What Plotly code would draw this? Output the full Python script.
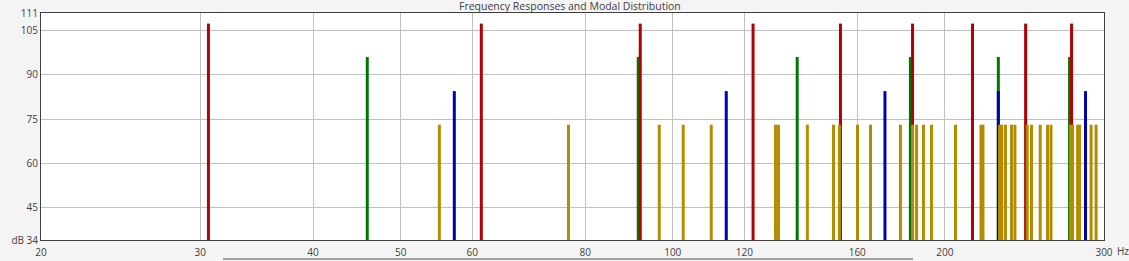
import plotly.graph_objects as go
import math

# ---- data ----
red_freqs = [30.64, 61.40, 92.05, 122.7, 153.3, 184.2, 214.6, 245.7, 276.2]
red_level = 107.4
green_freqs = [45.92, 91.58, 137.3, 183.2, 229.2, 274.8]
green_level = 96.1
blue_freqs = [57.32, 114.6, 171.7, 229.2, 286.2]
blue_level = 84.5
gold_freqs = [55.18, 76.67, 96.62, 102.7, 110.3, 129.9, 130.9, 140.9, 150.6, 152.9,
              160.1, 165.5, 178.6, 184.2, 186.1, 189.4, 193.3, 205.5, 219.3, 220.4,
              229.9, 231.2, 233.4, 237.0, 239.1, 246.7, 249.4, 255.0, 259.8, 262.1,
              275.5, 276.9, 280.5, 281.9, 290.3, 294.0]
gold_level = 73.1

x_tickvals = [20, 30, 40, 50, 60, 80, 100, 120, 160, 200, 300]
x_ticktext = ["20", "30", "40", "50", "60", "80", "100", "120", "160", "200", "300"]
y_tickvals = [34, 45, 60, 75, 90, 105, 111]
y_ticktext = ["dB 34", "45", "60", "75", "90", "105", "111"]
y_min, y_max = 34, 111
x_min, x_max = 20, 300


def stems(freqs, level):
    xs, ys = [], []
    for f in freqs:
        xs += [f, f, None]
        ys += [y_min, level, None]
    return xs, ys


fig = go.Figure()
for freqs, level, color in [
    (green_freqs, green_level, "#007800"),
    (blue_freqs, blue_level, "#0000b4"),
    (red_freqs, red_level, "#b40000"),
    (gold_freqs, gold_level, "#b48c00"),
]:
    xs, ys = stems(freqs, level)
    fig.add_trace(go.Scatter(x=xs, y=ys, mode="lines",
                             line=dict(color=color, width=3),
                             hoverinfo="skip", showlegend=False))

W, H = 1129, 261
ml, mr, mt, mb = 41, 25, 13, 21
fig.update_layout(
    width=W, height=H,
    margin=dict(l=ml, r=mr, t=mt, b=mb, autoexpand=False),
    paper_bgcolor="#f4f4f4",
    plot_bgcolor="#ffffff",
    font=dict(family="Open Sans", size=10, color="#404040"),
    showlegend=False,
)
fig.update_xaxes(
    type="log", range=[math.log10(x_min), math.log10(x_max)],
    tickmode="array", tickvals=x_tickvals, ticktext=x_ticktext,
    showgrid=True, gridcolor="#c0c0c0", gridwidth=1,
    showline=True, linecolor="#404040", linewidth=1, mirror=True,
    ticks="", zeroline=False, ticklabelstandoff=3,
)
fig.update_yaxes(
    range=[y_min, y_max],
    tickmode="array", tickvals=y_tickvals, ticktext=y_ticktext,
    showgrid=True, gridcolor="#c0c0c0", gridwidth=1,
    showline=True, linecolor="#404040", linewidth=1, mirror=True,
    ticks="", zeroline=False,
)

pw = W - ml - mr
ph = H - mt - mb
# title just above the plot frame
fig.add_annotation(text="Frequency Responses and Modal Distribution",
                   xref="paper", yref="paper",
                   x=(569.5 - ml) / pw, y=(H - mb - 6) / ph,
                   xanchor="center", yanchor="middle", showarrow=False,
                   font=dict(family="Open Sans", size=10.5, color="#404040"))
# unit label after the last x tick
fig.add_annotation(text="Hz", xref="paper", yref="paper",
                   x=(1115 - ml) / pw, y=-(251 - (H - mb)) / ph,
                   xanchor="left", yanchor="middle", showarrow=False,
                   font=dict(family="Open Sans", size=10, color="#404040"))
# scroll-bar like line below the axis
fig.add_shape(type="line", xref="paper", yref="paper",
              x0=(223 - ml) / pw, x1=(913 - ml) / pw,
              y0=-(259 - (H - mb)) / ph, y1=-(259 - (H - mb)) / ph,
              line=dict(color="#a0a0a0", width=2))

fig.write_html("out.html")
